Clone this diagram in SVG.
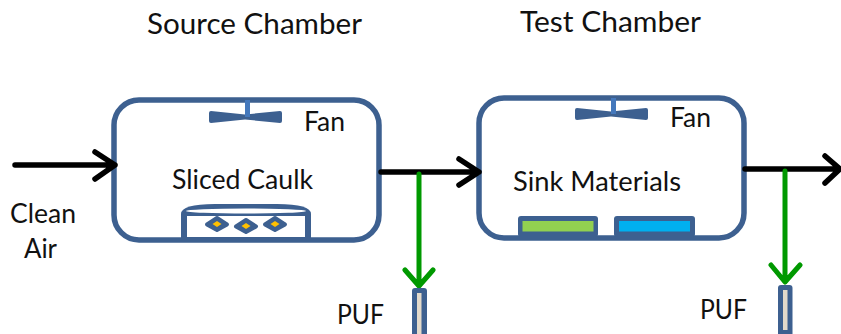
<svg xmlns="http://www.w3.org/2000/svg" width="841" height="334" viewBox="0 0 841 334">
<style>
text{font-family:"Lato","Open Sans","Liberation Sans",sans-serif;fill:#111}
.t{font-size:28px}
.l{font-size:26px}
.b{fill:#fff;stroke:#3d6090;stroke-width:5.500}
.bk{fill:none;stroke:#000;stroke-width:5.500;stroke-linecap:round;stroke-linejoin:round}
.gr{fill:none;stroke:#009900;stroke-width:5;stroke-linecap:round;stroke-linejoin:round}
.f{fill:#3d6090}
.s{fill:#4478bc}
.d{fill:#3d6090;stroke:#3d6090;stroke-width:4;stroke-linejoin:round}
.y{fill:#ffc000}
.o{fill:#3d6090}
.p{fill:#e3dacb}
</style>
<text class="t" x="147" y="34" textLength="215" lengthAdjust="spacingAndGlyphs">Source Chamber</text>
<text class="t" x="520" y="32" textLength="181" lengthAdjust="spacingAndGlyphs">Test Chamber</text>
<g id="source-chamber">
<rect class="b" x="114" y="100" width="265" height="140" rx="25"/>
<g id="fan-1"><path class="f" d="M211 111Q209 111 209 113V121Q209 123 211 123L245 119.500L280 123Q282 123 282 121V113Q282 111 280 111L245 114.500Z"/><rect class="s" x="245" y="100" width="5" height="17"/></g>
<text class="l" x="304" y="131" textLength="41" lengthAdjust="spacingAndGlyphs">Fan</text>
<text class="l" x="172" y="189" textLength="141" lengthAdjust="spacingAndGlyphs">Sliced Caulk</text>
<g id="dish">
<path class="o" d="M181 238V214Q181 204 215 204H277Q311 204 311 214V238Z"/>
<rect x="187" y="216" width="118" height="21" fill="#fff"/>
<ellipse cx="246" cy="211" rx="60" ry="2.500" fill="#fff"/>
<path class="d" d="M217 218L227 224.500L217 230L207 224.500Z"/><path class="y" d="M217 221L221.500 224L217 227L212.500 224Z"/>
<path class="d" d="M246 220L256 226.500L246 232L236 226.500Z"/><path class="y" d="M246 223L250.500 226L246 229L241.500 226Z"/>
<path class="d" d="M275 218L285 224.500L275 230L265 224.500Z"/><path class="y" d="M275 221L279.500 224L275 227L270.500 224Z"/>
</g>
</g>
<g id="test-chamber">
<rect class="b" x="479" y="98" width="265" height="140" rx="25"/>
<g id="fan-2"><path class="f" d="M577 108Q575 108 575 110V118Q575 120 577 120L611 116.500L646 120Q648 120 648 118V110Q648 108 646 108L611 111.500Z"/><rect class="s" x="611" y="98" width="5" height="16"/></g>
<text class="l" x="670" y="127" textLength="41" lengthAdjust="spacingAndGlyphs">Fan</text>
<text class="l" x="513" y="191" textLength="168" lengthAdjust="spacingAndGlyphs">Sink Materials</text>
<g id="sink-green"><rect x="518" y="216" width="80" height="21" rx="3" fill="#3d6090"/><rect x="522.500" y="221" width="71" height="10.500" fill="#92d050"/></g>
<g id="sink-blue"><rect x="614" y="216" width="81" height="21" rx="3" fill="#3d6090"/><rect x="619" y="221" width="71" height="10.500" fill="#00b0f0"/></g>
</g>
<g id="connectors">
<path class="bk" d="M15 165H115M95 152L115 165L95 179"/>
<path class="bk" d="M381 172H479M459 159L479 172L459 185"/>
<path class="bk" d="M745 169H840M825 156L840 169L825 183"/>
<path class="gr" d="M419 174V285M405 270L419 286L433 270"/>
<path class="gr" d="M785 171V281M771 265L785 282L800 265"/>
</g>
<g id="puf-1"><rect class="o" x="412" y="288" width="15" height="50" rx="3"/><rect class="p" x="417" y="293" width="4.500" height="41"/><text class="l" x="337" y="324" textLength="47" lengthAdjust="spacingAndGlyphs">PUF</text></g>
<g id="puf-2"><rect class="o" x="778" y="285" width="14.500" height="52" rx="3"/><rect class="p" x="783" y="290" width="4.500" height="40"/><text class="l" x="700" y="319" textLength="47" lengthAdjust="spacingAndGlyphs">PUF</text></g>
<text class="l" x="10" y="223" textLength="66" lengthAdjust="spacingAndGlyphs">Clean</text>
<text class="l" x="24" y="258" textLength="33" lengthAdjust="spacingAndGlyphs">Air</text>
</svg>
